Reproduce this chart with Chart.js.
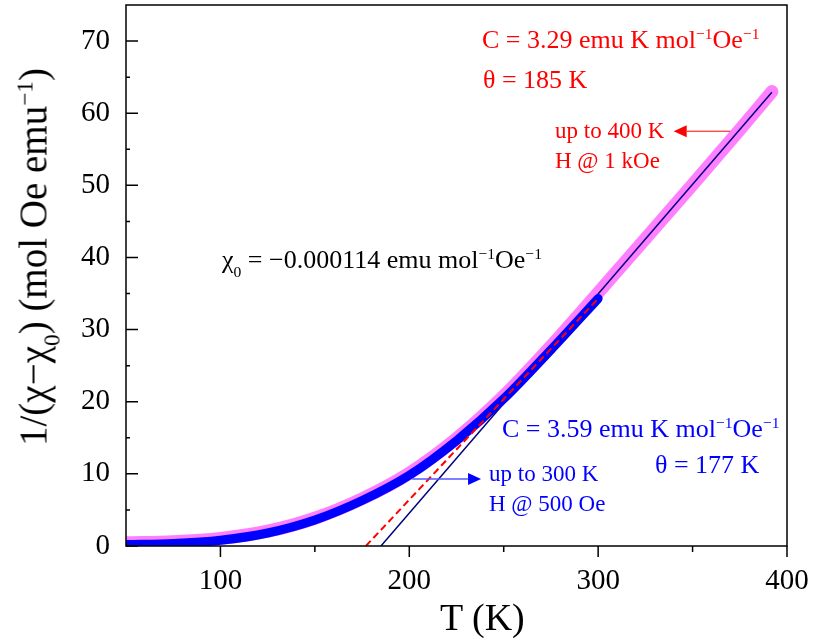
<!DOCTYPE html>
<html>
<head>
<meta charset="utf-8">
<script src="https://cdn.jsdelivr.net/npm/chart.js@4.4.1/dist/chart.umd.min.js"></script>
<style>
  html, body { margin: 0; padding: 0; background: #fff; }
  #wrap { position: relative; width: 814px; height: 641px; overflow: hidden; }
  #c { position: absolute; left: 0; top: 0; }
  .lbl { position: absolute; white-space: nowrap; line-height: 1; color: #000;
         font-family: "Liberation Serif", "Times New Roman", serif; }
  .sup { font-size: .6em; position: relative; top: -.6em; }
  .sub { font-size: .6em; position: relative; top: .55em; }
  .red { color: #ff0000; }
  .blue { color: #0000ff; }
</style>
</head>
<body>
<div id="wrap">
  <canvas id="c" width="814" height="641"></canvas>

  <div class="lbl red" style="font-size:26px; left:482px; top:27px;">C = 3.29 emu K mol<span class="sup">−1</span>Oe<span class="sup">−1</span></div>
  <div class="lbl red" style="font-size:26px; left:483px; top:67px;">θ = 185 K</div>
  <div class="lbl red" style="font-size:23px; left:555px; top:119px;">up to 400 K</div>
  <div class="lbl red" style="font-size:23px; left:555px; top:149px;">H @ 1 kOe</div>

  <div class="lbl" style="font-size:26px; left:222px; top:247px;">χ<span class="sub">0</span> = −0.000114 emu mol<span class="sup">−1</span>Oe<span class="sup">−1</span></div>

  <div class="lbl blue" style="font-size:26px; left:502px; top:416px;">C = 3.59 emu K mol<span class="sup">−1</span>Oe<span class="sup">−1</span></div>
  <div class="lbl blue" style="font-size:26px; left:655px; top:452px;">θ = 177 K</div>
  <div class="lbl blue" style="font-size:23px; left:489px; top:462px;">up to 300 K</div>
  <div class="lbl blue" style="font-size:23px; left:489px; top:492px;">H @ 500 Oe</div>

  <div class="lbl" style="font-size:38px; left:440px; top:598px;">T (K)</div>
  <div class="lbl" style="font-size:39px; left:33.3px; top:257px; transform:translate(-50%,-50%) rotate(-90deg);">1/(χ−χ<span class="sub">0</span>) (mol Oe emu<span class="sup">−1</span>)</div>
</div>

<script>
// 1/(chi - chi0) vs T, two field runs plus Curie-Weiss fit lines
var T_1KOE   = [50, 75, 100, 125, 150, 175, 200, 225, 250, 275, 300, 325, 350, 375, 392];
var INV_1KOE = [0.45, 0.6, 1.05, 2.05, 3.85, 6.55, 10.1, 14.9, 20.8, 27.7, 35.1, 42.6, 50.1, 57.7, 63.0];

var T_500OE   = [50, 75, 100, 125, 150, 175, 200, 225, 250, 275, 300];
var INV_500OE = [0.2, 0.35, 0.8, 1.8, 3.6, 6.3, 9.8, 14.6, 20.4, 27.2, 34.3];

// fit lines (end points)
var FIT_1KOE_T = [185, 392];
var FIT_1KOE   = [0, 62.9];
var FIT_500OE_T = [177, 300];
var FIT_500OE   = [0, 34.3];

var X_TICKS = [100, 200, 300, 400];
var X_MINOR = [150, 250, 350];
var Y_TICKS = [0, 10, 20, 30, 40, 50, 60, 70];
var Y_MINOR = [5, 15, 25, 35, 45, 55, 65];

var FONT = "'Liberation Serif', 'Times New Roman', serif";

function pts(xs, ys) {
  return xs.map(function (x, i) { return { x: x, y: ys[i] }; });
}

function arrow(ctx, x0, y0, x1, y1, lineColor, headColor, lw) {
  var dir = x1 > x0 ? 1 : -1, hl = 13, hw = 6;
  ctx.strokeStyle = lineColor; ctx.lineWidth = lw;
  ctx.beginPath(); ctx.moveTo(x0, y0); ctx.lineTo(x1 - dir * hl, y1); ctx.stroke();
  ctx.fillStyle = headColor;
  ctx.beginPath();
  ctx.moveTo(x1, y1);
  ctx.lineTo(x1 - dir * hl, y1 - hw);
  ctx.lineTo(x1 - dir * hl, y1 + hw);
  ctx.closePath(); ctx.fill();
}

// frame, inward/outward ticks and the two arrows
var framePlugin = {
  id: "frame",
  afterDatasetsDraw: function (chart) {
    var ctx = chart.ctx, a = chart.chartArea, xs = chart.scales.x, ys = chart.scales.y;
    ctx.save();

    arrow(ctx, xs.getPixelForValue(370), ys.getPixelForValue(57.5),
          xs.getPixelForValue(340), ys.getPixelForValue(57.5), "#ff0000", "#ff0000", 1);
    arrow(ctx, xs.getPixelForValue(201.5), ys.getPixelForValue(9.3),
          xs.getPixelForValue(238), ys.getPixelForValue(9.3), "#5555ff", "#0000ff", 1.5);

    ctx.strokeStyle = "#000";
    ctx.lineWidth = 1.5;
    ctx.strokeRect(a.left, a.top, a.right - a.left, a.bottom - a.top);

    ctx.beginPath();
    X_TICKS.forEach(function (v) {
      var px = xs.getPixelForValue(v);
      ctx.moveTo(px, a.bottom); ctx.lineTo(px, a.bottom + 11);
    });
    X_MINOR.forEach(function (v) {
      var px = xs.getPixelForValue(v);
      ctx.moveTo(px, a.bottom); ctx.lineTo(px, a.bottom + 6);
    });
    Y_TICKS.forEach(function (v) {
      var py = ys.getPixelForValue(v);
      ctx.moveTo(a.left, py); ctx.lineTo(a.left + 12, py);
    });
    Y_MINOR.forEach(function (v) {
      var py = ys.getPixelForValue(v);
      ctx.moveTo(a.left, py); ctx.lineTo(a.left + 4, py);
    });
    ctx.stroke();
    ctx.restore();
  }
};

var lineBase = {
  pointRadius: 0, fill: false, clip: 0,
  cubicInterpolationMode: "monotone",
  borderCapStyle: "round", borderJoinStyle: "round"
};

new Chart(document.getElementById("c"), {
  type: "line",
  data: {
    datasets: [
      Object.assign({}, lineBase, { data: pts(FIT_500OE_T, FIT_500OE), borderColor: "#ff0000", borderWidth: 2, borderDash: [7, 4], borderCapStyle: "butt", order: 1 }),
      Object.assign({}, lineBase, { data: pts(T_500OE, INV_500OE), borderColor: "#0000ff", borderWidth: 9, order: 2 }),
      Object.assign({}, lineBase, { data: pts(FIT_1KOE_T, FIT_1KOE), borderColor: "#000080", borderWidth: 1.5, borderCapStyle: "butt", order: 3 }),
      Object.assign({}, lineBase, { data: pts(T_1KOE, INV_1KOE), borderColor: "#ff80ff", borderWidth: 13, order: 4 })
    ]
  },
  options: {
    responsive: false,
    animation: false,
    events: [],
    layout: { padding: { left: 0, top: 5, right: 27, bottom: 0 } },
    plugins: { legend: { display: false }, tooltip: { enabled: false } },
    scales: {
      x: {
        type: "linear", min: 50, max: 400,
        afterBuildTicks: function (s) { s.ticks = X_TICKS.map(function (v) { return { value: v }; }); },
        afterFit: function (s) { s.height = 95; s.paddingLeft = 0; s.paddingRight = 0; },
        grid: { display: false, drawTicks: false },
        border: { display: false },
        ticks: { font: { family: FONT, size: 29 }, color: "#000", padding: 18, maxRotation: 0, autoSkip: false }
      },
      y: {
        type: "linear", min: 0, max: 75,
        afterBuildTicks: function (s) { s.ticks = Y_TICKS.map(function (v) { return { value: v }; }); },
        afterFit: function (s) { s.width = 126; s.paddingTop = 0; s.paddingBottom = 0; },
        grid: { display: false, drawTicks: false },
        border: { display: false },
        ticks: { font: { family: FONT, size: 29 }, color: "#000", padding: 16, autoSkip: false }
      }
    }
  },
  plugins: [framePlugin]
});
</script>
</body>
</html>
